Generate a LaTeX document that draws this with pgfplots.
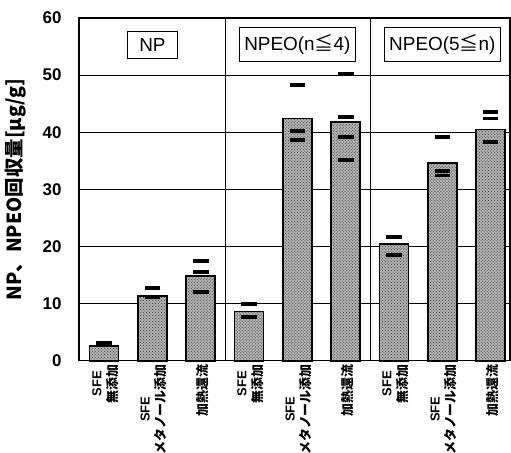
\documentclass[border=0pt]{standalone}
\usepackage{fontspec}
\setmainfont{Liberation Sans}
\newfontfamily\cjk{Noto Sans CJK JP}
\usepackage{pgfplots}
\pgfplotsset{compat=1.18}
\usetikzlibrary{patterns}
\newcommand\jp[1]{{\cjk\bfseries #1}}
\newcommand\lab[2]{\begin{tabular}{@{}c@{}}#1\\#2\end{tabular}}
\begin{document}
\begin{tikzpicture}
\begin{axis}[
    scale only axis,
    width=431bp, height=342.7bp,
    xmin=-0.52, xmax=8.4,
    ymin=0, ymax=60,
    ytick={0,10,...,60},
    xtick={0,...,8},
    xticklabels={\lab{SFE}{\jp{無添加}}, \lab{SFE}{\jp{メタノール添加}}, \jp{加熱還流},
                 \lab{SFE}{\jp{無添加}}, \lab{SFE}{\jp{メタノール添加}}, \jp{加熱還流},
                 \lab{SFE}{\jp{無添加}}, \lab{SFE}{\jp{メタノール添加}}, \jp{加熱還流}},
    x tick label style={rotate=90, anchor=east,
        font=\bfseries\fontsize{13}{16}\selectfont, yshift=-2bp},
    y tick label style={font=\bfseries\fontsize{17}{17}\selectfont, xshift=-14bp},
    /pgf/number format/assume math mode=true,
    major tick length=0pt,
    ymajorgrids,
    major grid style={black, line width=0.7pt},
    axis line style={line width=1.3pt},
    ylabel={\cjk\bfseries NP、NPEO回収量[μg/g]},
    every axis y label/.style={at={(axis description cs:-0.148,0.5)},
        rotate=90, anchor=center, font=\fontsize{19.5}{19.5}\selectfont},
    clip=false,
]
\draw[black, line width=0.7pt] (axis cs:2.5,0) -- (axis cs:2.5,60);
\draw[black, line width=0.7pt] (axis cs:5.5,0) -- (axis cs:5.5,60);

\addplot[ybar, bar width=0.6, draw=black, line width=1.7pt, fill=gray!60,
    postaction={pattern=crosshatch dots, pattern color=black!80}]
  coordinates {(0,2.6) (1,11.3) (2,14.8) (3,8.6) (4,42.4) (5,41.8) (6,20.4) (7,34.6) (8,40.5)};

\addplot[only marks, mark=-, mark size=7.8bp, mark options={line width=3.6bp, black}]
  coordinates {
    (0,3.1) (0,2.7)
    (1,12.7) (1,11.1)
    (2,17.5) (2,15.5) (2,12.0)
    (3,9.9) (3,7.6)
    (4,48.3) (4,40.2) (4,38.6)
    (5,50.2) (5,42.7) (5,39.2) (5,35.1)
    (6,21.7) (6,18.5)
    (7,39.2) (7,33.2) (7,32.4)
    (8,43.5) (8,42.4) (8,38.3)
  };

\node[draw, line width=1.2pt, inner xsep=12bp, inner ysep=7bp, fill=white,
      font=\fontsize{19}{19}\selectfont] at (axis cs:1,55.3) {NP};
\node[draw, line width=1.2pt, inner xsep=5bp, inner ysep=7bp, fill=white,
      font=\fontsize{19}{19}\selectfont] at (axis cs:4,55.3) {NPEO(n{\cjk ≦}4)};
\node[draw, line width=1.2pt, inner xsep=5bp, inner ysep=7bp, fill=white,
      font=\fontsize{19}{19}\selectfont] at (axis cs:7,55.3) {NPEO(5{\cjk ≦}n)};
\end{axis}
\pgfresetboundingbox
\useasboundingbox (-79bp,-92.3bp) rectangle (432bp,360.7bp);
\end{tikzpicture}
\end{document}
